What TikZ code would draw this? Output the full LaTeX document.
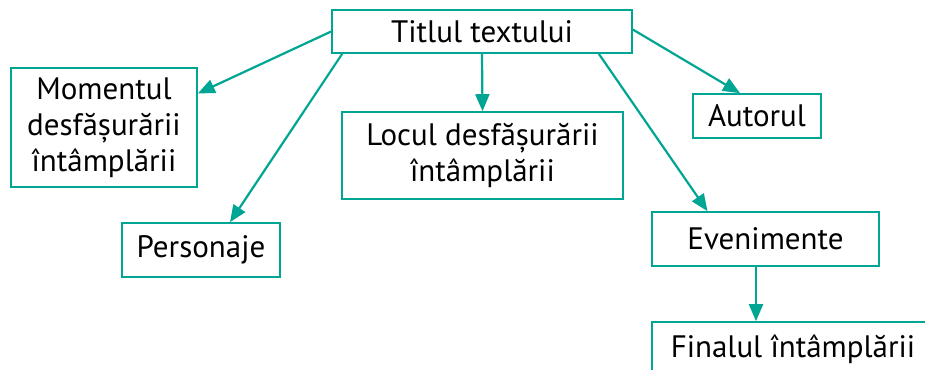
\documentclass[tikz,border=0pt]{standalone}
\usepackage{fontspec}
\setmainfont{PT Sans}
\usetikzlibrary{arrows.meta}
\definecolor{verde}{RGB}{0,166,147}
\tikzset{
	caseta/.style={draw=verde, line width=0.8pt, inner sep=0pt, align=center, font=\fontsize{15.5}{18}\selectfont},
	sageata/.style={draw=verde, line width=1.1pt, -{Triangle[length=8.5pt,width=7pt]}}
}
\begin{document}
\begin{tikzpicture}[x=0.5pt, y=-0.5pt]
		%%%%% START %%%%%
		
		\useasboundingbox (0, 0) rectangle (925, 369);
		
		\node[caseta, minimum width=150pt, minimum height=21.5pt] (titlu) at (482, 31.5) {Titlul textului};
		
		\node[caseta, minimum width=93pt, minimum height=59.5pt] (moment) at (104, 127.5) {Momentul\\desfășurării\\întâmplării};
		\node[caseta, minimum width=79pt, minimum height=27pt] (personaje) at (201, 250) {Personaje};
		\node[caseta, minimum width=140.5pt, minimum height=43.5pt] (locul) at (482.5, 155.5) {Locul desfășurării\\întâmplării};
		\node[caseta, minimum width=64pt, minimum height=22pt] (autorul) at (757, 116) {Autorul};
		\node[caseta, minimum width=113.5pt, minimum height=27pt] (evenimente) at (765.5, 239) {Evenimente};
		\node[caseta, minimum width=141pt, minimum height=27pt] (finalul) at (793, 349) {Finalul întâmplării};
		
		\draw[sageata] (titlu.west) -- ([yshift=17pt]moment.east);
		\draw[sageata] ([xshift=5.5pt]titlu.south west) -- ([xshift=14.5pt]personaje.north);
		\draw[sageata] (titlu.south) -- (locul.north);
		\draw[sageata] ([xshift=-17pt]titlu.south east) -- ([xshift=-29pt]evenimente.north);
		\draw[sageata] ([yshift=1pt]titlu.east) -- ([xshift=-8.5pt]autorul.north);
		\draw[sageata] ([xshift=-4.75pt]evenimente.south) -- ([xshift=-4.75pt]evenimente.south |- finalul.north);
		
		%%%%% END %%%%%
	\end{tikzpicture}
\end{document}
